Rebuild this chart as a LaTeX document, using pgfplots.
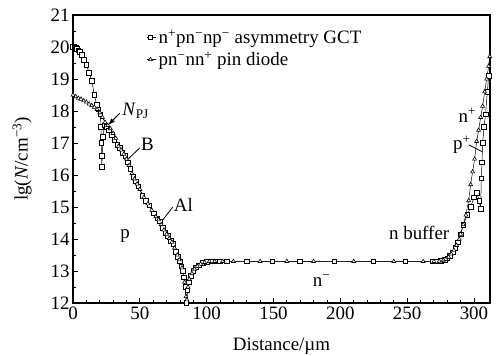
\documentclass[border=0pt]{standalone}
\usepackage{pgfplots}
\pgfplotsset{compat=1.18}
\usetikzlibrary{arrows.meta,calc}
\usepackage{fontspec}
\setmainfont{Liberation Serif}
\begin{document}
\begin{tikzpicture}
\begin{axis}[name=ax,
  scale only axis, width=417bp, height=288bp,
  xmin=0, xmax=312, ymin=12, ymax=21,
  xtick={0,50,...,300}, ytick={12,13,...,21},
  minor x tick num=4, minor y tick num=1,
  tick align=inside, tick pos=left,
  major tick length=5bp, minor tick length=3bp,
  axis line style={line width=1.1pt}, every tick/.style={line width=0.8pt,black},
  /pgf/number format/assume math mode=true,
  tick label style={font=\fontsize{19}{21}\selectfont},
  label style={font=\fontsize{19}{21}\selectfont},
  xlabel={Distance/µm},
  ylabel={lg(\textit{N}/cm\textsuperscript{−3})},
  xlabel style={yshift=-12bp},
  ylabel style={yshift=12bp},
  legend style={draw=none, fill=none, at={(rel axis cs:0.175,0.96)}, anchor=north west,
    font=\fontsize{19}{21}\selectfont, row sep=3bp, inner sep=1bp},
  legend cell align=left,
  legend image code/.code={\path (0bp,0bp) -- (9bp,0bp); \draw[#1] plot coordinates {(3bp,0bp)};},
]
\addplot[black, line width=0.5pt, mark=square*, mark size=2.3pt, mark options={fill=white, line width=0.6pt}] coordinates {
(0,20.0)(1,20.0)(2,19.98)(3,19.95)(4,19.9)(5,19.85)(6.5,19.75)(8,19.6)(10,19.45)(12,19.2)(14,18.95)(16,18.5)(17.7,18.2)(19,18.05)(20.5,17.9)(21,17.5)(21.2,17.0)(21.4,16.6)(21.5,16.25)(22.5,17.2)(23.5,17.55)(25,17.5)(27,17.4)(29,17.25)(31,17.1)(33,16.95)(35,16.85)(37,16.7)(39,16.6)(41,16.4)(43,16.2)(45,15.95)(47,15.8)(49,15.65)(52,15.35)(54.5,15.2)(57,15.05)(60.5,14.8)(63,14.65)(65,14.55)(67,14.35)(69,14.2)(71,14.1)(73,13.95)(75,13.85)(77,13.6)(78.5,13.45)(80,13.3)(81,13.15)(82,13.0)(83,12.8)(84,12.5)(84.8,12.0)(85.5,12.4)(86.5,12.65)(88,12.85)(90,13.0)(92,13.12)(94,13.18)(97,13.25)(100,13.28)(103.5,13.3)(107,13.3)(110,13.3)(115,13.3)(130,13.3)(149,13.3)(169.5,13.3)(195.5,13.3)(224.6,13.3)(248.5,13.3)(268.7,13.3)(272.4,13.3)(275,13.32)(278,13.35)(280,13.4)(282,13.48)(284,13.58)(286,13.72)(288,13.9)(290,14.15)(292,14.45)(295,14.75)(297.5,15.0)(300,15.3)(302,15.45)(304,15.2)(305,14.95)(305.5,15.9)(306,16.4)(306.5,17.0)(307.5,17.5)(308.7,17.9)(310,18.6)(311,19.1)
};
\addlegendentry{n\textsuperscript{+}pn\textsuperscript{−}np\textsuperscript{−} asymmetry GCT}
\addplot[black, line width=0.5pt, mark=triangle*, mark size=2.3pt, mark options={fill=white, line width=0.6pt}] coordinates {
(0,18.5)(2,18.45)(4,18.4)(6,18.37)(8,18.32)(10,18.28)(12,18.22)(14,18.17)(16,18.12)(18,18.05)(20,17.95)(22,17.8)(24,17.65)(26,17.55)(28,17.45)(30,17.3)(32,17.15)(34,16.9)(36,16.78)(38,16.65)(40,16.5)(42,16.3)(44,16.05)(46,15.88)(48,15.72)(50,15.55)(53,15.3)(56,15.1)(59,14.9)(62,14.7)(64,14.6)(66,14.45)(68,14.28)(70,14.15)(72,14.02)(74,13.9)(76,13.72)(78,13.5)(79.5,13.35)(81.5,13.1)(83.5,12.65)(84.5,12.2)(85.2,12.1)(86,12.5)(87,12.75)(89,12.92)(91,13.06)(93,13.15)(95.5,13.22)(98.5,13.27)(102,13.3)(106,13.3)(112,13.3)(120,13.3)(140,13.3)(160,13.3)(180,13.3)(210,13.3)(240,13.3)(262,13.3)(270,13.3)(274,13.31)(277,13.34)(279,13.37)(281,13.44)(283,13.53)(285,13.65)(287,13.8)(289,14.0)(290,14.15)(292,14.45)(294,14.75)(296,15.2)(297.5,15.7)(299,16.1)(300.5,16.5)(302,17.05)(303.5,17.4)(305,17.8)(306.5,18.15)(308,18.6)(309.5,19.0)(311,19.4)(311.8,19.7)
};
\addlegendentry{pn\textsuperscript{−}nn\textsuperscript{+} pin diode}
% annotations
\draw[-{Latex[length=7bp,width=5bp]}, line width=0.9pt] (axis cs:35,17.93) -- (axis cs:26.3,17.56);
\node[anchor=west, font=\fontsize{19}{21}\selectfont, inner sep=1bp] at (axis cs:36,18.0) {\textit{N}\textsubscript{PJ}};
\draw[line width=0.8pt] (axis cs:50,16.85) -- (axis cs:41.3,16.5);
\node[anchor=west, font=\fontsize{19}{21}\selectfont, inner sep=1bp] at (axis cs:50,16.95) {B};
\draw[line width=0.8pt] (axis cs:74.6,15.0) -- (axis cs:66.2,14.54);
\node[anchor=west, font=\fontsize{19}{21}\selectfont, inner sep=1bp] at (axis cs:74.6,15.06) {Al};
\node[font=\fontsize{19}{21}\selectfont] at (axis cs:39,14.1) {p};
\node[font=\fontsize{19}{21}\selectfont] at (axis cs:186,12.7) {n\textsuperscript{−}};
\node[font=\fontsize{19}{21}\selectfont] at (axis cs:259,14.2) {n buffer};
\node[font=\fontsize{19}{21}\selectfont] at (axis cs:295,17.87) {n\textsuperscript{+}};
\node[font=\fontsize{19}{21}\selectfont] at (axis cs:291,16.95) {p\textsuperscript{+}};
\draw[line width=0.8pt] (axis cs:296.3,16.94) -- (axis cs:306,16.73);
\end{axis}
\pgfresetboundingbox
\useasboundingbox ($(ax.south west)+(-73bp,-53bp)$) rectangle ($(ax.north east)+(10bp,15bp)$);
\end{tikzpicture}
\end{document}
